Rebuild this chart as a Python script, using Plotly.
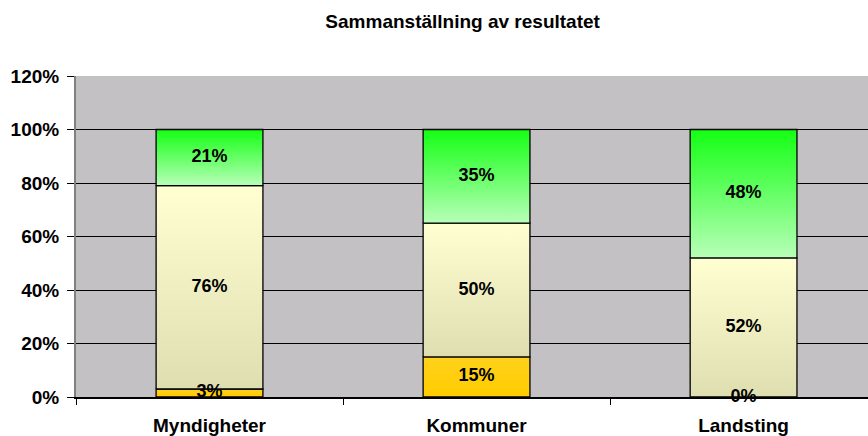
import plotly.graph_objects as go

categories = ["Myndigheter", "Kommuner", "Landsting"]
low_share = [3, 15, 0]
mid_share = [76, 50, 52]
high_share = [21, 35, 48]
y_ticks = [0, 20, 40, 60, 80, 100, 120]
y_tick_text = [f"{v}%" for v in y_ticks]

series = [
    ("Låg", low_share, [[0, "#FFCC00"], [1, "#FFD21C"]]),
    ("Mellan", mid_share, [[0, "#DFDEB0"], [1, "#FFFFD2"]]),
    ("Hög", high_share, [[0, "#B8FFB8"], [1, "#14FF14"]]),
]

BAR_W = 0.40
FONT = "Liberation Sans, Arial, sans-serif"

fig = go.Figure()
base = [0] * len(categories)
label_x, label_y, label_t = [], [], []
for name, vals, cscale in series:
    for i, v in enumerate(vals):
        x0, x1 = i - BAR_W / 2, i + BAR_W / 2
        y0, y1 = base[i], base[i] + v
        fig.add_trace(go.Scatter(
            x=[x0, x1, x1, x0, x0], y=[y0, y0, y1, y1, y0],
            mode="lines", fill="toself",
            fillgradient=dict(type="vertical", colorscale=cscale),
            line=dict(color="#000000", width=1.3),
            name=name, showlegend=False, hoverinfo="skip",
        ))
        label_x.append(i)
        label_y.append(y0 + v / 2)
        label_t.append(f"{v}%")
        base[i] += v

fig.add_trace(go.Scatter(
    x=label_x, y=label_y, text=label_t, mode="text",
    textfont=dict(family=FONT, size=18, color="#000000", weight="bold"),
    textposition="middle center", cliponaxis=False, showlegend=False,
    hoverinfo="skip",
))

fig.update_layout(
    width=868, height=436,
    margin=dict(l=76, r=0, t=76, b=39, autoexpand=False),
    paper_bgcolor="#FFFFFF",
    plot_bgcolor="#C3C1C4",
    showlegend=False,
    title=dict(
        text="<b>Sammanställning av resultatet</b>",
        x=0.533, xref="container", xanchor="center",
        y=0.952, yref="container", yanchor="middle",
        font=dict(family=FONT, size=19, color="#000000"),
    ),
    xaxis=dict(
        range=[-0.5, 2.466],
        automargin=False,
        tickmode="array", tickvals=[0, 1, 2], ticktext=categories,
        ticks="", showgrid=False, zeroline=False,
        showline=True, linecolor="#000000", linewidth=1.5,
        tickfont=dict(family=FONT, size=19, color="#000000", weight="bold"),
        ticklabelstandoff=10,
        minor=dict(tickmode="array", tickvals=[-0.5, 0.5, 1.5, 2.5],
                   ticks="outside", ticklen=6, tickcolor="#000000", tickwidth=1,
                   showgrid=False),
        fixedrange=True,
    ),
    yaxis=dict(
        range=[0, 120],
        automargin=False,
        tickmode="array", tickvals=y_ticks, ticktext=y_tick_text,
        ticks="outside", ticklen=7, tickcolor="#000000", tickwidth=1,
        showgrid=True, gridcolor="#000000", gridwidth=1,
        zeroline=False,
        showline=True, linecolor="#808080", linewidth=2,
        tickfont=dict(family=FONT, size=19, color="#000000", weight="bold"),
        ticklabelstandoff=4,
        fixedrange=True,
    ),
)

fig.write_html(
    "out.html",
    config={"displayModeBar": False},
    post_script="document.body.style.margin='0px';document.body.style.overflow='hidden';",
)
